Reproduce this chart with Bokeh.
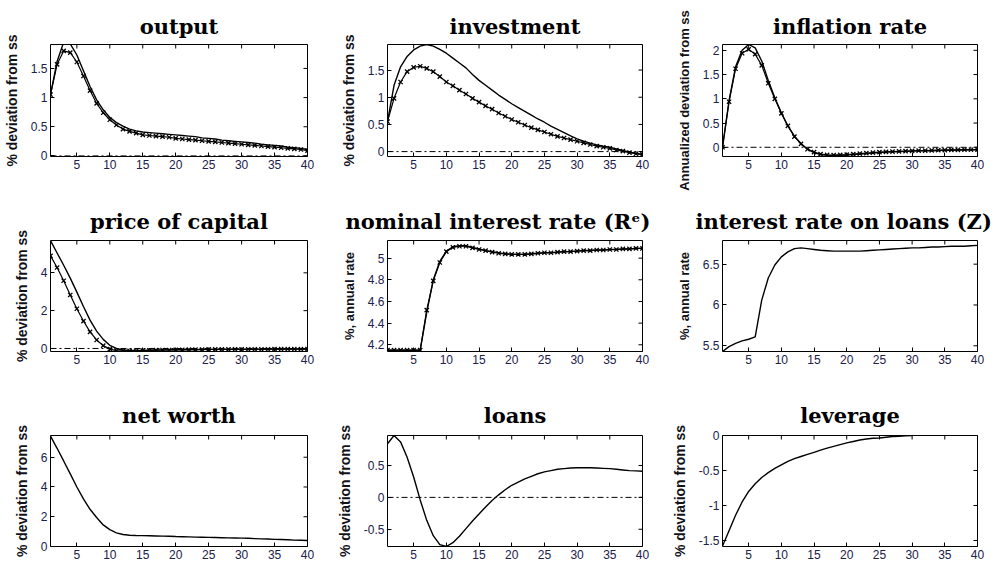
import math
from bokeh.plotting import figure
from bokeh.models import Range1d, FixedTicker, Span
from bokeh.layouts import column, row
from bokeh.embed import file_html
from bokeh.resources import INLINE

# ---------------- data ----------------
periods = list(range(1, 41))
x_ticks = [5, 10, 15, 20, 25, 30, 35, 40]

output_model = [1.05, 1.62, 1.95, 1.92, 1.73, 1.46, 1.19, 0.96, 0.79, 0.66, 0.57, 0.51, 0.46, 0.43,
                0.41, 0.40, 0.39, 0.38, 0.37, 0.36, 0.35, 0.34, 0.33, 0.31, 0.30, 0.29, 0.27, 0.26,
                0.25, 0.24, 0.23, 0.22, 0.20, 0.19, 0.18, 0.17, 0.15, 0.14, 0.13, 0.11]
output_alt = [1.05, 1.57, 1.80, 1.77, 1.61, 1.37, 1.12, 0.90, 0.74, 0.62, 0.53, 0.46, 0.42, 0.39,
              0.36, 0.35, 0.34, 0.33, 0.32, 0.30, 0.29, 0.28, 0.27, 0.26, 0.25, 0.24, 0.23, 0.22,
              0.21, 0.20, 0.19, 0.18, 0.17, 0.16, 0.15, 0.14, 0.13, 0.12, 0.11, 0.09]

investment_model = [0.55, 1.22, 1.56, 1.75, 1.87, 1.94, 1.97, 1.94, 1.88, 1.81, 1.72, 1.63, 1.54, 1.42,
                    1.31, 1.22, 1.13, 1.04, 0.96, 0.88, 0.81, 0.74, 0.67, 0.60, 0.54, 0.47, 0.41, 0.35,
                    0.29, 0.235, 0.19, 0.155, 0.125, 0.10, 0.08, 0.05, 0.02, -0.01, -0.03, -0.05]
investment_alt = [0.55, 0.98, 1.28, 1.47, 1.55, 1.57, 1.53, 1.47, 1.38, 1.28, 1.21, 1.13, 1.06, 0.98,
                  0.91, 0.84, 0.78, 0.71, 0.65, 0.59, 0.54, 0.49, 0.44, 0.40, 0.36, 0.32, 0.28, 0.25,
                  0.22, 0.19, 0.16, 0.13, 0.10, 0.08, 0.06, 0.03, 0.01, -0.02, -0.04, -0.05]

inflation_model = [0.0, 0.96, 1.66, 2.0, 2.12, 2.05, 1.78, 1.38, 1.02, 0.71, 0.44, 0.23, 0.08, -0.04,
                   -0.11, -0.15, -0.165, -0.17, -0.165, -0.16, -0.15, -0.14, -0.13, -0.12, -0.11, -0.10,
                   -0.095, -0.09, -0.085, -0.08, -0.075, -0.07, -0.07, -0.065, -0.06, -0.06, -0.055,
                   -0.055, -0.05, -0.05]
inflation_alt = [0.0, 0.94, 1.62, 1.94, 2.02, 1.92, 1.69, 1.32, 1.0, 0.70, 0.44, 0.22, 0.07, -0.04,
                 -0.10, -0.14, -0.155, -0.16, -0.155, -0.15, -0.14, -0.13, -0.12, -0.11, -0.10, -0.095,
                 -0.09, -0.085, -0.08, -0.075, -0.07, -0.07, -0.065, -0.06, -0.06, -0.055, -0.055,
                 -0.05, -0.05, -0.05]

price_model = [5.70, 5.05, 4.40, 3.72, 2.98, 2.22, 1.50, 0.92, 0.48, 0.17, 0.0, -0.08, -0.11, -0.11,
               -0.10, -0.09, -0.08, -0.08, -0.07, -0.07, -0.06, -0.06, -0.06, -0.05, -0.05, -0.05,
               -0.05, -0.04, -0.04, -0.04, -0.04, -0.04, -0.04, -0.03, -0.03, -0.03, -0.03, -0.03,
               -0.03, -0.03]
price_alt = [4.90, 4.28, 3.58, 2.83, 2.10, 1.45, 0.88, 0.45, 0.15, -0.03, -0.11, -0.13, -0.13, -0.12,
             -0.11, -0.10, -0.09, -0.08, -0.08, -0.07, -0.07, -0.06, -0.06, -0.06, -0.05, -0.05,
             -0.05, -0.05, -0.04, -0.04, -0.04, -0.04, -0.04, -0.04, -0.03, -0.03, -0.03, -0.03,
             -0.03, -0.03]

nominal_model = [4.15, 4.15, 4.15, 4.15, 4.15, 4.15, 4.50, 4.80, 4.97, 5.065, 5.105, 5.115, 5.115,
                 5.10, 5.085, 5.07, 5.06, 5.05, 5.04, 5.035, 5.035, 5.035, 5.04, 5.045, 5.05, 5.05,
                 5.055, 5.06, 5.06, 5.065, 5.07, 5.07, 5.075, 5.075, 5.08, 5.08, 5.085, 5.085, 5.09,
                 5.09]
nominal_alt = [4.15, 4.15, 4.15, 4.15, 4.15, 4.15, 4.52, 4.79, 4.96, 5.06, 5.10, 5.11, 5.11, 5.095,
               5.08, 5.07, 5.055, 5.045, 5.04, 5.035, 5.035, 5.035, 5.04, 5.045, 5.05, 5.05, 5.055,
               5.06, 5.06, 5.065, 5.07, 5.07, 5.075, 5.075, 5.08, 5.08, 5.085, 5.085, 5.09, 5.09]

loan_rate = [5.43, 5.49, 5.53, 5.56, 5.58, 5.61, 6.06, 6.33, 6.49, 6.59, 6.65, 6.69, 6.70, 6.69,
             6.68, 6.67, 6.665, 6.66, 6.66, 6.66, 6.66, 6.66, 6.665, 6.67, 6.675, 6.68, 6.685, 6.69,
             6.695, 6.70, 6.70, 6.705, 6.71, 6.71, 6.715, 6.72, 6.72, 6.72, 6.725, 6.73]

net_worth = [7.42, 6.6, 5.75, 4.88, 4.0, 3.2, 2.5, 1.95, 1.45, 1.13, 0.92, 0.81, 0.76, 0.74, 0.73,
             0.72, 0.71, 0.70, 0.69, 0.67, 0.66, 0.65, 0.63, 0.62, 0.61, 0.60, 0.59, 0.58, 0.57,
             0.56, 0.55, 0.53, 0.51, 0.50, 0.48, 0.47, 0.45, 0.43, 0.42, 0.40]

loans = [0.84, 0.97, 0.87, 0.63, 0.32, -0.04, -0.36, -0.60, -0.74, -0.77, -0.71, -0.61, -0.49, -0.37,
         -0.26, -0.15, -0.05, 0.04, 0.12, 0.19, 0.24, 0.29, 0.33, 0.37, 0.40, 0.42, 0.44, 0.45, 0.46,
         0.465, 0.465, 0.465, 0.46, 0.455, 0.45, 0.44, 0.43, 0.42, 0.415, 0.41]

nan = float("nan")
leverage = [-1.58, -1.36, -1.14, -0.95, -0.80, -0.69, -0.60, -0.53, -0.47, -0.42, -0.37, -0.33,
            -0.30, -0.27, -0.24, -0.21, -0.18, -0.155, -0.13, -0.105, -0.085, -0.065, -0.05, -0.04,
            -0.035, -0.025, -0.015, -0.01, -0.005, 0.0, nan, nan, nan, nan, nan, nan, nan, nan, nan, nan]

titles = ["output", "investment", "inflation rate",
          "price of capital", "nominal interest rate (R\u1d49)", "interest rate on loans (Z)",
          "net worth", "loans", "leverage"]
ylabels = ["% deviation from ss", "% deviation from ss", "Annualized deviation from ss",
           "% deviation from ss", "%, annual rate", "%, annual rate",
           "% deviation from ss", "% deviation from ss", "% deviation from ss"]
y_limits = [(-0.01, 1.91), (-0.09, 1.97), (-0.19, 2.12),
            (-0.16, 5.71), (4.138, 5.163), (5.43, 6.79),
            (0.0, 7.46), (-0.77, 0.97), (-1.586, 0.0)]
y_ticks = [[0, 0.5, 1, 1.5], [0, 0.5, 1, 1.5], [0, 0.5, 1, 1.5, 2],
           [0, 2, 4], [4.2, 4.4, 4.6, 4.8, 5], [5.5, 6, 6.5],
           [0, 2, 4, 6], [-0.5, 0, 0.5], [-1.5, -1, -0.5, 0]]
model_series = [output_model, investment_model, inflation_model,
                price_model, nominal_model, loan_rate,
                net_worth, loans, leverage]
alt_series = [output_alt, investment_alt, inflation_alt,
              price_alt, nominal_alt, None,
              None, None, None]
zero_lines = [True, True, True, True, False, False, True, True, False]

# ---------------- layout geometry ----------------
col_w = [330, 330, 335]
col_left = [50, 57, 62]
col_right = [23, 18, 18]
row_h = [195, 190, 183]
row_top = [44, 45, 50]
row_bottom = [39, 34, 22]
row_title_standoff = [11, 13, 15]
ylabel_sizes = ["14px", "14px", "13px", "14px", "13px", "13px", "14px", "14px", "14px"]

TICK_COLOR = "#20204a"


def make_panel(i):
    r, c = divmod(i, 3)
    lo, hi = y_limits[i]
    p = figure(width=col_w[c], height=row_h[r],
               x_range=Range1d(1, 40), y_range=Range1d(lo, hi),
               output_backend="svg", toolbar_location=None,
               min_border_left=col_left[c], min_border_right=col_right[c],
               min_border_top=row_top[r], min_border_bottom=row_bottom[r],
               title=titles[i])
    p.title.text_font = "DejaVu Serif"
    p.title.text_font_style = "bold"
    p.title.text_font_size = "21px"
    p.title.text_color = "black"
    p.title.standoff = row_title_standoff[r]
    if i == 4:
        p.title.align = "left"
        p.title.offset = -42
    elif i == 5:
        p.title.align = "left"
        p.title.offset = -27
    else:
        p.title.align = "center"
    p.xgrid.visible = False
    p.ygrid.visible = False
    p.outline_line_color = "black"
    p.outline_line_alpha = 1.0
    p.outline_line_width = 1
    p.background_fill_color = "white"
    p.border_fill_color = "white"

    p.xaxis.ticker = FixedTicker(ticks=x_ticks)
    p.yaxis.ticker = FixedTicker(ticks=y_ticks[i])
    p.yaxis.major_label_overrides = {t: f"{t:g}" for t in y_ticks[i]}
    for ax in list(p.xaxis) + list(p.yaxis):
        ax.axis_line_color = None
        ax.major_tick_in = 4
        ax.major_tick_out = 0
        ax.major_tick_line_color = "black"
        ax.minor_tick_line_color = None
        ax.major_label_text_font = "Liberation Sans"
        ax.major_label_text_font_size = "12px"
        ax.major_label_text_color = TICK_COLOR
        ax.major_label_standoff = 3
    p.yaxis.axis_label = ylabels[i]
    p.yaxis.axis_label_text_font = "Liberation Sans"
    p.yaxis.axis_label_text_font_style = "bold"
    p.yaxis.axis_label_text_font_size = ylabel_sizes[i]
    p.yaxis.axis_label_text_color = "#111118"
    p.yaxis.axis_label_standoff = 8

    # mirrored tick marks on the top and right edges of the box (MATLAB style)
    p.scatter(x_ticks, [hi] * len(x_ticks), marker="dash", angle=math.pi / 2,
              size=8, line_color="black", line_width=1)
    p.scatter([40] * len(y_ticks[i]), y_ticks[i], marker="dash",
              size=8, line_color="black", line_width=1)

    if zero_lines[i]:
        p.add_layout(Span(location=0, dimension="width", line_color="black",
                          line_width=1, line_dash="6 3 2 3"))

    p.line(periods, model_series[i], line_color="black", line_width=1.4)
    if alt_series[i] is not None:
        p.line(periods, alt_series[i], line_color="black", line_width=1.2)
        p.scatter(periods, alt_series[i], marker="x", size=6, line_color="black", line_width=1.3)
    return p


panels = [make_panel(i) for i in range(9)]
layout = column(row(*panels[0:3]), row(*panels[3:6]), row(*panels[6:9]))

open("out.html", "w").write(file_html(layout, INLINE))
